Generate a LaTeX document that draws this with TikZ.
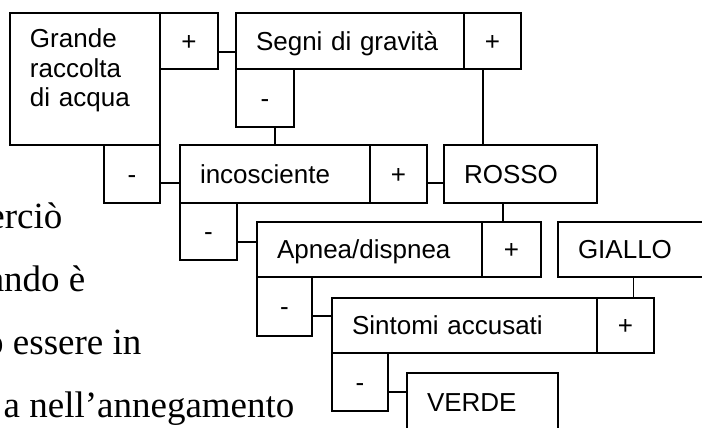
\documentclass[tikz,border=0pt]{standalone}
\usepackage{fontspec}
\setmainfont{Liberation Serif}
\setsansfont{Liberation Sans}

\begin{document}
\begin{tikzpicture}[%
    x=1pt, y=-1pt,              % coordinates in pixels, top-down
    line width=1.2pt,           % thin box outlines
    ]
% -------------------------------------------------
% A few box styles
\tikzset{
  base/.style={draw, rectangle, anchor=north west, outer sep=0pt,
    inner xsep=20pt, inner ysep=0pt, text height=18.6pt, text depth=0pt,
    font=\sffamily\fontsize{26}{29.5}\selectfont},
  box/.style={base, align=left, text width=#1, minimum height=56pt},
  pm/.style={base, inner xsep=0pt, align=center, minimum width=57pt, minimum height=57pt},
  % Connector line style
  link/.style={draw},
  prose/.style={anchor=base east, inner sep=0pt, font=\fontsize{37}{45}\selectfont}
}
\useasboundingbox (0,0) rectangle (702,428);
% -------------------------------------------------
% Page text behind the chart
\node [prose] (l1) at (63,228) {erciò};
\node [prose] (l2) at (86,291) {ando è};
\node [prose] (l3) at (142,354) {o essere in};
\node [prose] (l4) at (295,417) {a nell’annegamento};

% Question boxes with their + / - answers
\node [box=110pt, text height=35pt, text depth=97pt] (grande) at (10,13) {Grande\\raccolta\\di acqua};
\node [pm, minimum width=58pt, minimum height=56pt] (plusA) at (grande.north east) {+};
\node [box=188pt] (segni) at (236,13) {Segni di gravità};
\node [pm, minimum height=56pt] (plusB) at (segni.north east) {+};
\node [pm, minimum width=58pt, minimum height=58pt] (minusA) at (segni.south west) {-};
\node [pm, anchor=north east, minimum width=56pt, minimum height=58pt] (minusB) at (grande.south east) {-};
\node [box=150pt, minimum height=58pt] (incos) at (180,145) {incosciente};
\node [pm, minimum height=58pt] (plusC) at (incos.north east) {+};
\node [box=113pt, minimum height=58pt] (rosso) at (444,145) {ROSSO};
\node [pm] (minusC) at (incos.south west) {-};
\node [box=185pt, minimum height=55pt] (apnea) at (257,222) {Apnea/dispnea};
\node [pm, minimum width=59pt, minimum height=55pt] (plusD) at (apnea.north east) {+};
\node [box=111pt, minimum height=55pt] (giallo) at (558,222) {GIALLO};
\node [pm, minimum width=55pt, minimum height=59pt] (minusD) at (apnea.south west) {-};
\node [box=225pt, minimum height=55pt] (sintomi) at (332,298) {Sintomi accusati};
\node [pm, minimum height=55pt] (plusE) at (sintomi.north east) {+};
\node [pm, minimum width=56pt, minimum height=58pt] (minusE) at (sintomi.south west) {-};
\node [box=111pt, minimum height=58pt] (verde) at (407,373) {VERDE};

% Side links
\draw [link] ([yshift=-11pt]plusA.east) -- ([yshift=-11pt]plusA.east -| segni.west);
\draw [link] ([yshift=-9pt]minusB.east) -- ([yshift=-9pt]minusB.east -| incos.west);
\draw [link] ([yshift=-9pt]plusC.east) -- ([yshift=-9pt]plusC.east -| rosso.west);
\draw [link] ([yshift=-10.5pt]minusC.east) -- ([yshift=-10.5pt]minusC.east -| apnea.west);
\draw [link] ([yshift=-9.5pt]minusD.east) -- ([yshift=-9.5pt]minusD.east -| sintomi.west);
\draw [link] ([yshift=-10pt]minusE.east) -- ([yshift=-10pt]minusE.east -| verde.west);
% Down links
\draw [link] ([xshift=10pt]minusA.south) -- ([xshift=10pt]minusA.south |- incos.north);
\draw [link] ([xshift=-9.5pt]plusB.south) -- ([xshift=-9.5pt]plusB.south |- rosso.north);
\draw [link] ([xshift=-17.5pt]rosso.south) -- ([xshift=-17.5pt]rosso.south |- plusD.north);
\draw [link] (giallo.south) -- (giallo.south |- plusE.north);

% -------------------------------------------------
\end{tikzpicture}
\end{document}
